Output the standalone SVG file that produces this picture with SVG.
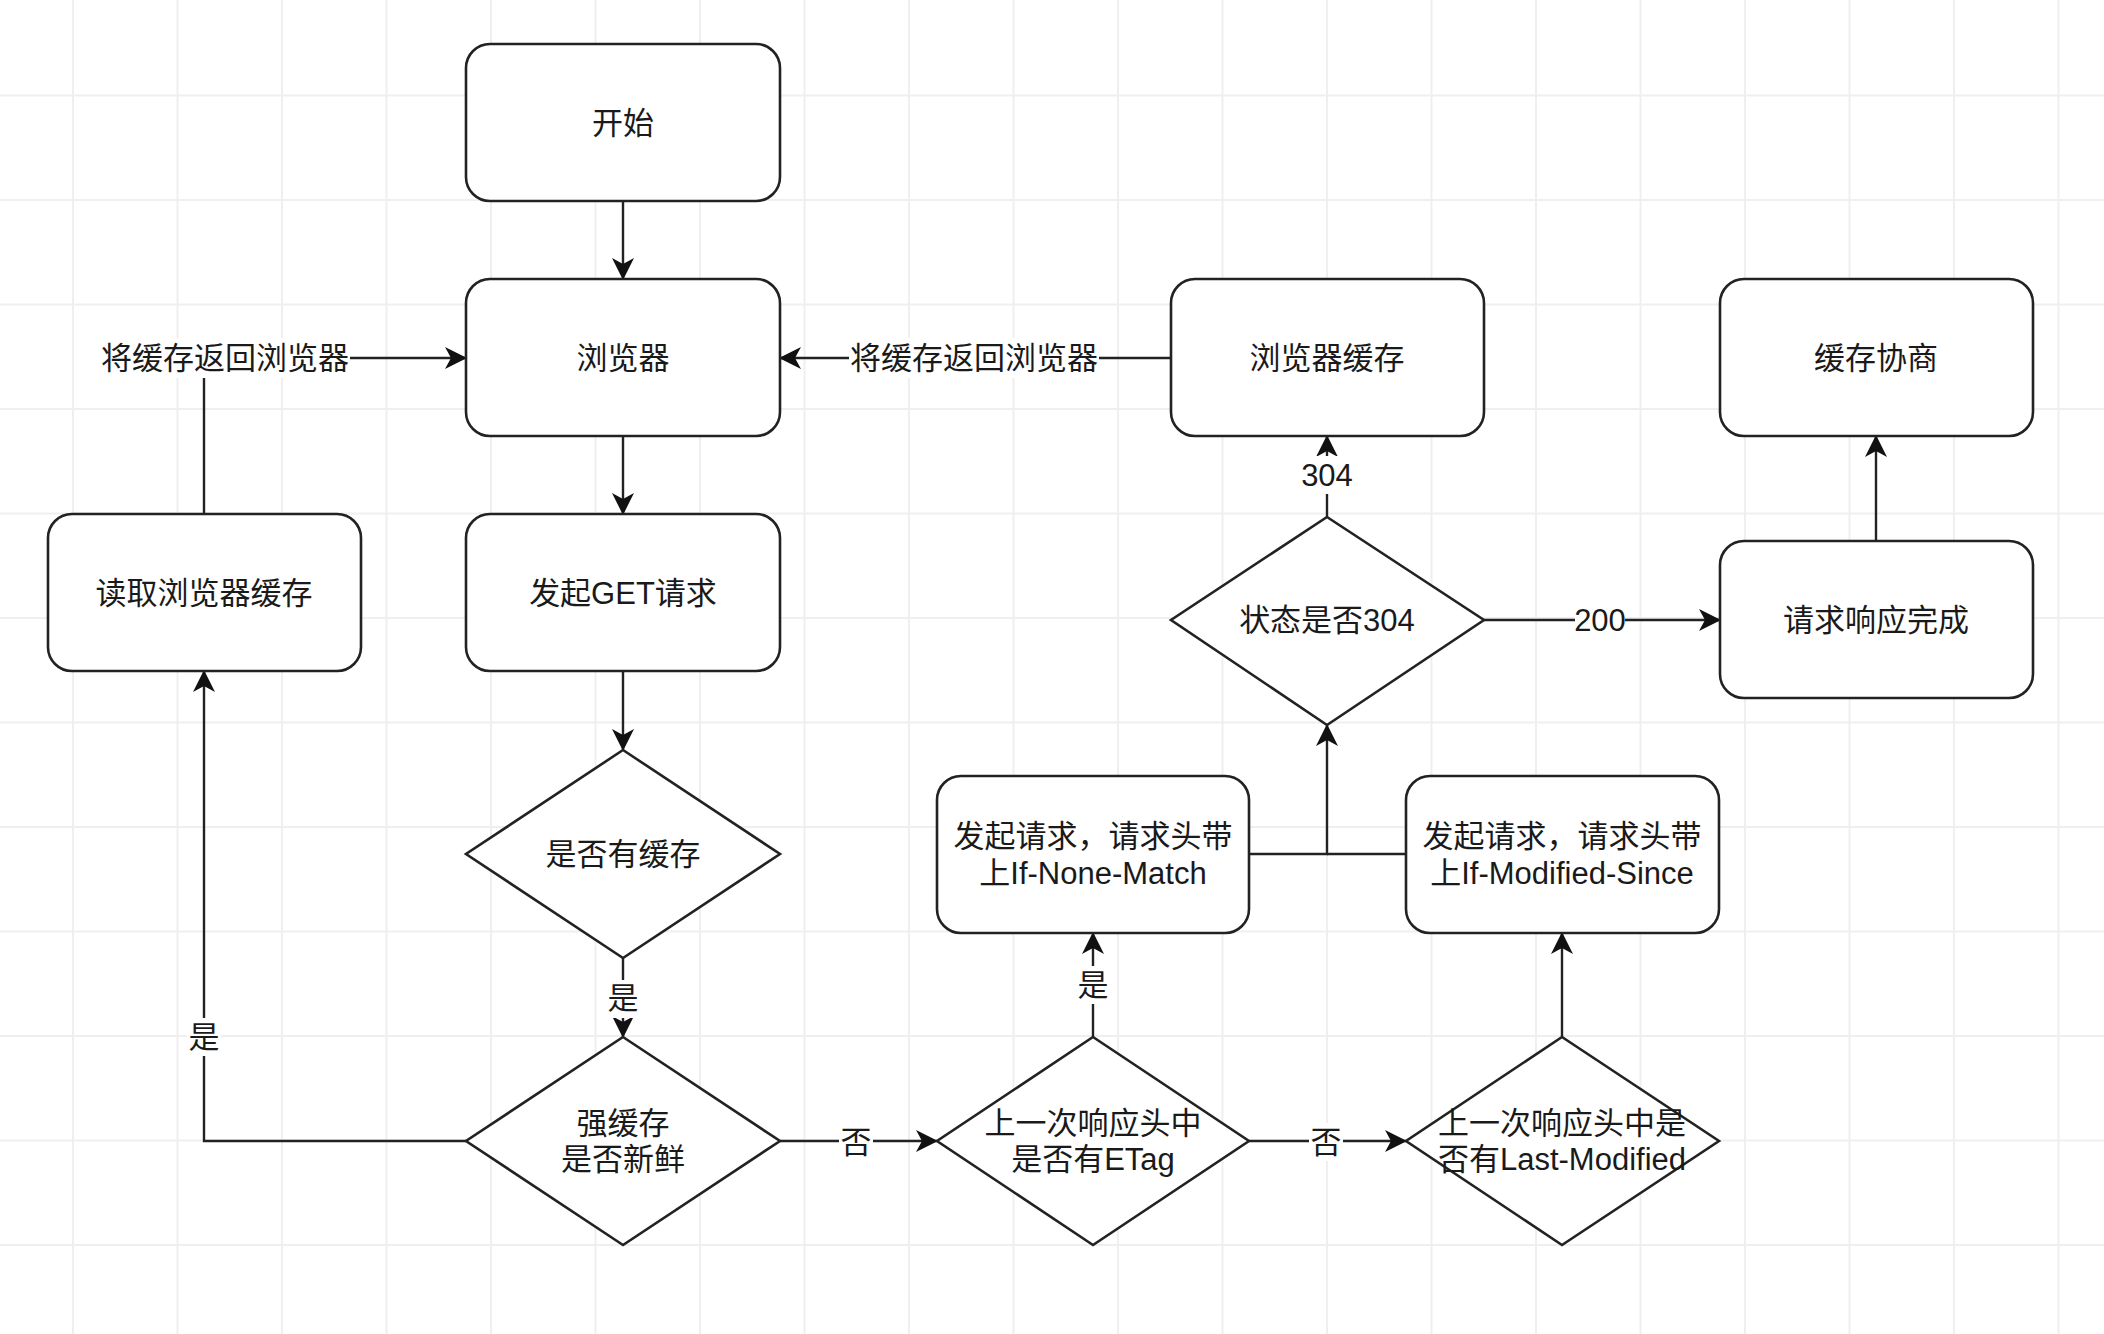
<svg xmlns="http://www.w3.org/2000/svg" width="2104" height="1334" viewBox="0 0 2104 1334">
<style>
.grid line{stroke:#efefef;stroke-width:2}
.box{fill:#fff;stroke:#222;stroke-width:2.6}
.edge{fill:none;stroke:#222;stroke-width:2.4}
.t{font-family:"Liberation Sans","Noto Sans CJK SC",sans-serif;font-size:31px;fill:#1a1a1a;text-anchor:middle;dominant-baseline:central}
.lbg{fill:#fff}
</style>
<defs>
<marker id="arr" markerUnits="userSpaceOnUse" markerWidth="22" markerHeight="22" refX="21" refY="11" orient="auto">
<path d="M0,0 L22,11 L0,22 L6,11 Z" fill="#111"/>
</marker>
</defs>
<rect width="2104" height="1334" fill="#fff"/>
<g class="grid">
<line x1="73" y1="0" x2="73" y2="1334"/><line x1="177.5" y1="0" x2="177.5" y2="1334"/><line x1="282" y1="0" x2="282" y2="1334"/><line x1="386.5" y1="0" x2="386.5" y2="1334"/><line x1="491" y1="0" x2="491" y2="1334"/><line x1="595.5" y1="0" x2="595.5" y2="1334"/><line x1="700" y1="0" x2="700" y2="1334"/><line x1="804.5" y1="0" x2="804.5" y2="1334"/><line x1="909" y1="0" x2="909" y2="1334"/><line x1="1013.5" y1="0" x2="1013.5" y2="1334"/><line x1="1118" y1="0" x2="1118" y2="1334"/><line x1="1222.5" y1="0" x2="1222.5" y2="1334"/><line x1="1327" y1="0" x2="1327" y2="1334"/><line x1="1431.5" y1="0" x2="1431.5" y2="1334"/><line x1="1536" y1="0" x2="1536" y2="1334"/><line x1="1640.5" y1="0" x2="1640.5" y2="1334"/><line x1="1745" y1="0" x2="1745" y2="1334"/><line x1="1849.5" y1="0" x2="1849.5" y2="1334"/><line x1="1954" y1="0" x2="1954" y2="1334"/><line x1="2058.5" y1="0" x2="2058.5" y2="1334"/>
<line x1="0" y1="95.5" x2="2104" y2="95.5"/><line x1="0" y1="200" x2="2104" y2="200"/><line x1="0" y1="304.5" x2="2104" y2="304.5"/><line x1="0" y1="409" x2="2104" y2="409"/><line x1="0" y1="513.5" x2="2104" y2="513.5"/><line x1="0" y1="618" x2="2104" y2="618"/><line x1="0" y1="722.5" x2="2104" y2="722.5"/><line x1="0" y1="827" x2="2104" y2="827"/><line x1="0" y1="931.5" x2="2104" y2="931.5"/><line x1="0" y1="1036" x2="2104" y2="1036"/><line x1="0" y1="1140.5" x2="2104" y2="1140.5"/><line x1="0" y1="1245" x2="2104" y2="1245"/>
</g>
<g id="connectors">
<path class="edge" d="M623,201 L623,279" marker-end="url(#arr)"/>
<path class="edge" d="M623,436 L623,514" marker-end="url(#arr)"/>
<path class="edge" d="M623,671 L623,750" marker-end="url(#arr)"/>
<path class="edge" d="M623,958 L623,1037" marker-end="url(#arr)"/>
<path class="edge" d="M466,1141 L204,1141 L204,671" marker-end="url(#arr)"/>
<path class="edge" d="M204,514 L204,358 L466,358" marker-end="url(#arr)"/>
<path class="edge" d="M1171,358 L780,358" marker-end="url(#arr)"/>
<path class="edge" d="M780,1141 L937,1141" marker-end="url(#arr)"/>
<path class="edge" d="M1249,1141 L1406,1141" marker-end="url(#arr)"/>
<path class="edge" d="M1093,1037 L1093,933" marker-end="url(#arr)"/>
<path class="edge" d="M1562,1037 L1562,933" marker-end="url(#arr)"/>
<path class="edge" d="M1249,854 L1327,854 L1327,725" marker-end="url(#arr)"/>
<path class="edge" d="M1406,854 L1327,854"/>
<path class="edge" d="M1327,517 L1327,436" marker-end="url(#arr)"/>
<path class="edge" d="M1484,620 L1720,620" marker-end="url(#arr)"/>
<path class="edge" d="M1876,541 L1876,436" marker-end="url(#arr)"/>
<rect class="lbg" x="100" y="338" width="250" height="40"/>
<text class="t" x="225" y="358">将缓存返回浏览器</text>
<rect class="lbg" x="849" y="338" width="250" height="40"/>
<text class="t" x="974" y="358">将缓存返回浏览器</text>
<rect class="lbg" x="1302" y="456" width="50" height="38"/>
<text class="t" x="1327" y="475">304</text>
<rect class="lbg" x="1575" y="601" width="50" height="38"/>
<text class="t" x="1600" y="620">200</text>
<rect class="lbg" x="606" y="980" width="34" height="38"/>
<text class="t" x="623" y="998">是</text>
<rect class="lbg" x="187" y="1018" width="34" height="38"/>
<text class="t" x="204" y="1037">是</text>
<rect class="lbg" x="839" y="1123" width="34" height="38"/>
<text class="t" x="856" y="1142">否</text>
<rect class="lbg" x="1076" y="966" width="34" height="38"/>
<text class="t" x="1093" y="985">是</text>
<rect class="lbg" x="1309" y="1123" width="34" height="38"/>
<text class="t" x="1326" y="1142">否</text>
</g>
<g id="start"><rect class="box" x="466" y="44" width="314" height="157" rx="24"/><text class="t" x="623" y="123">开始</text></g>
<g id="browser"><rect class="box" x="466" y="279" width="314" height="157" rx="24"/><text class="t" x="623" y="358">浏览器</text></g>
<g id="get"><rect class="box" x="466" y="514" width="314" height="157" rx="24"/><text class="t" x="623" y="593">发起GET请求</text></g>
<g id="hascache"><path class="box" d="M623,750 L780,854 L623,958 L466,854 Z"/><text class="t" x="623" y="854">是否有缓存</text></g>
<g id="fresh"><path class="box" d="M623,1037 L780,1141 L623,1245 L466,1141 Z"/><text class="t" x="623" y="1123">强缓存</text><text class="t" x="623" y="1159">是否新鲜</text></g>
<g id="readcache"><rect class="box" x="48" y="514" width="313" height="157" rx="24"/><text class="t" x="204" y="593">读取浏览器缓存</text></g>
<g id="browsercache"><rect class="box" x="1171" y="279" width="313" height="157" rx="24"/><text class="t" x="1327" y="358">浏览器缓存</text></g>
<g id="negotiate"><rect class="box" x="1720" y="279" width="313" height="157" rx="24"/><text class="t" x="1876" y="358">缓存协商</text></g>
<g id="is304"><path class="box" d="M1327,517 L1484,620 L1327,725 L1171,620 Z"/><text class="t" x="1327" y="620">状态是否304</text></g>
<g id="done"><rect class="box" x="1720" y="541" width="313" height="157" rx="24"/><text class="t" x="1876" y="620">请求响应完成</text></g>
<g id="inm"><rect class="box" x="937" y="776" width="312" height="157" rx="24"/><text class="t" x="1093" y="836">发起请求，请求头带</text><text class="t" x="1093" y="873">上If-None-Match</text></g>
<g id="ims"><rect class="box" x="1406" y="776" width="313" height="157" rx="24"/><text class="t" x="1562" y="836">发起请求，请求头带</text><text class="t" x="1562" y="873">上If-Modified-Since</text></g>
<g id="etag"><path class="box" d="M1093,1037 L1249,1141 L1093,1245 L937,1141 Z"/><text class="t" x="1093" y="1123">上一次响应头中</text><text class="t" x="1093" y="1159">是否有ETag</text></g>
<g id="lastmod"><path class="box" d="M1562,1037 L1719,1141 L1562,1245 L1406,1141 Z"/><text class="t" x="1562" y="1123">上一次响应头中是</text><text class="t" x="1562" y="1159">否有Last-Modified</text></g>
</svg>
